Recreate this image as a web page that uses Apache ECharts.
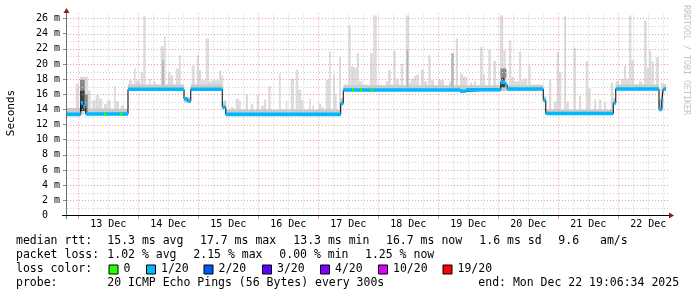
<!DOCTYPE html>
<html><head><meta charset="utf-8">
<script src="https://cdn.jsdelivr.net/npm/echarts@6/dist/echarts.min.js"></script>
<style>html,body{margin:0;padding:0;background:#fff}#c{width:697px;height:297px}</style>
</head><body><div id="c"></div>
<script>
// time unit: hours since 12 Dec 2025 00:00
const T_START = 19.1, T_END = 259.1, Y_MAX = 26.72;
const dayTickHours = [36,60,84,108,132,156,180,204,228,252];
const dayTickLabels = ['13 Dec','14 Dec','15 Dec','16 Dec','17 Dec','18 Dec','19 Dec','20 Dec','21 Dec','22 Dec'];
const midnightHours = [24,48,72,96,120,144,168,192,216,240];
const sixHourHours = [30,36,42,54,60,66,78,84,90,102,108,114,126,132,138,150,156,162,174,180,186,198,204,210,222,228,234,246,252,258];
const yMajorValues = [0,2,4,6,8,10,12,14,16,18,20,22,24,26];
const yMajorLabels = ['0  ','2 m','4 m','6 m','8 m','10 m','12 m','14 m','16 m','18 m','20 m','22 m','24 m','26 m'];
const yMinorValues = [1,3,5,7,9,11,13,15,17,19,21,23,25];

// median rtt (ms), value holds from medianT[i] to the next change
const medianT = [19.1,25.0,26.0,27.0,43.9,66.3,67.6,69.0,81.6,83.0,129.0,130.0,176.7,179.1,193.0,194.7,195.6,210.0,211.0,238.0,239.0,256.3,257.4,258.0];
const medianV = [13.35,14.85,14.4,13.4,16.65,15.4,15.1,16.65,14.3,13.35,14.8,16.55,16.4,16.6,17.6,17.2,16.7,15.2,13.45,14.85,16.7,14.0,15.1,16.7];
// hours where loss was 0/20 (green)
const lossZeroHours = [34.3,40.7,133.5,136.7,141.3];

// smoke band near the median: [from, to, low, high]
const smokeBand = [
 [19.1,25.0,13.2,14.2],[27.0,43.9,13.2,14.1],[43.9,66.3,16.5,17.3],[66.3,69.0,14.9,15.6],
 [69.0,81.6,16.5,17.3],[81.6,83.0,14.1,15.0],[83.0,129.0,13.2,14.0],[129.0,130.0,14.6,15.5],
 [130.0,210.0,16.4,17.2],[210.0,211.0,15.0,15.7],[211.0,238.0,13.3,14.0],[238.0,239.0,14.6,15.5],
 [239.0,256.3,16.5,17.3],[256.3,258.0,13.9,15.3],[258.0,259.1,16.5,17.3]
];
// smoke spikes (max ping): [from, to, max]
const smokeSpikes = [
 [23.0,24.3,17.4],[24.7,26.3,18.3],[26.3,27.9,18.3],[27.9,29.0,16.5],[29.6,31.0,15.2],[31.0,32.3,15.9],
 [32.3,33.6,15.4],[34.3,35.6,14.7],[35.6,37.0,15.2],[38.3,39.0,17.05],[39.0,40.3,15.1],[41.0,42.3,14.5],
 [44.3,45.6,17.85],[46.3,47.0,19.4],[47.0,48.7,17.8],[49.0,49.9,18.95],[50.0,51.0,26.3],[52.3,53.0,18.0],
 [54.0,55.0,17.7],[57.0,58.3,22.3],[58.3,59.0,23.6],[59.9,61.0,18.95],[61.0,62.0,18.5],[63.0,64.3,19.4],
 [64.3,65.0,21.15],[69.4,70.6,19.8],[71.4,72.3,21.15],[72.3,73.2,19.2],[73.2,75.0,17.85],[75.0,76.3,23.35],
 [76.3,77.2,17.7],[77.2,80.3,17.85],[80.3,81.2,19.1],[81.2,82.0,18.5],
 [82.3,83.2,15.2],[85.0,86.3,14.3],[87.0,88.3,15.4],[88.3,89.0,15.1],[91.0,91.9,16.0],[93.0,94.0,14.7],
 [95.4,96.3,15.9],[97.0,98.3,14.5],[98.3,99.2,15.3],[100.0,101.0,17.05],[104.3,105.0,18.7],[107.0,107.6,15.2],
 [109.0,110.3,18.05],[111.0,112.0,19.25],[112.0,113.2,16.6],[113.2,114.0,15.2],[116.3,117.0,15.4],[117.6,118.3,14.5],
 [120.3,121.2,14.7],[121.2,122.3,14.3],[123.0,124.3,17.9],[124.3,125.0,21.7],[125.9,126.7,18.6],[126.7,127.4,16.0],
 [128.3,129.1,20.9],[130.3,131.6,17.3],[132.0,133.0,25.1],[133.0,134.3,19.7],[134.3,135.4,19.5],[135.4,136.3,21.4],
 [136.3,137.6,17.7],[137.6,139.6,17.3],[140.7,142.0,21.4],[142.0,143.4,26.4],[143.6,144.3,17.3],[147.0,147.9,17.7],
 [147.9,149.0,19.2],[149.0,150.0,17.3],[150.0,151.0,21.7],[151.0,152.3,18.05],[153.0,154.0,20.0],[155.0,156.3,26.4],
 [156.3,157.0,17.5],[157.0,158.3,18.05],[158.3,159.2,18.4],[159.2,160.3,18.6],[161.0,162.3,19.25],[162.3,163.6,17.7],
 [164.0,165.0,21.15],[165.0,166.3,17.85],[167.9,170.3,17.9],[172.3,173.2,17.7],[173.2,174.3,21.4],[175.0,175.9,23.35],
 [176.7,177.9,18.7],[177.9,179.6,18.3],[180.7,181.6,17.5],[182.3,183.2,17.7],[184.7,185.8,22.25],[185.8,186.7,18.6],
 [188.0,189.0,21.9],[190.0,191.1,20.4],[192.7,194.0,26.4],[194.0,195.0,21.8],[195.0,195.6,19.2],[196.3,197.2,23.1],
 [197.2,198.3,18.3],[198.3,200.3,17.7],[200.3,201.2,21.6],[201.2,202.3,17.85],[202.3,203.6,18.05],[204.0,205.0,19.8],
 [205.0,209.5,17.3],[210.3,211.2,15.7],[212.3,213.2,17.9],[214.3,215.4,15.0],[215.4,216.3,21.6],[216.3,217.2,18.95],
 [218.3,219.2,26.3],[219.2,220.3,15.0],[222.0,223.1,22.15],[224.3,225.2,15.8],[227.0,227.9,20.4],[227.9,229.0,16.8],
 [230.3,231.2,15.3],[232.3,233.2,15.3],[234.3,235.2,15.0],[237.0,238.0,17.5],[239.0,240.3,17.75],[241.0,242.3,18.05],
 [242.3,243.1,19.8],[243.1,244.3,18.05],[244.3,245.2,26.4],[245.2,246.3,20.5],[246.3,247.6,17.3],[248.3,249.6,17.7],
 [250.3,251.4,25.7],[251.4,252.3,19.5],[252.3,253.2,21.8],[253.2,254.3,20.3],[255.0,256.3,20.9],[257.0,258.0,17.5],
 [258.0,259.0,17.3]
];
// dense smoke: [from, to, low, high, density level 1..3]
const smokeDense = [
 [24.7,26.6,16.5,17.9,2],[24.7,26.6,13.8,16.5,1],[26.6,27.8,13.6,16.0,2],
 [155.3,156.1,16.8,21.9,3],[173.2,174.3,16.8,21.4,3],[192.9,195.2,18.2,19.4,2],[193.2,194.6,16.9,18.2,1],
 [57.5,58.3,17.2,20.5,3]
];

const rttStats = ['15.3 ms avg','17.7 ms max','13.3 ms min','16.7 ms now','1.6 ms sd','9.6','am/s'];
const lossStats = ['1.02 % avg','2.15 % max','0.00 % min','1.25 % now'];
const lossLegendLabels = ['0','1/20','2/20','3/20','4/20','10/20','19/20'];
const probeText = '20 ICMP Echo Pings (56 Bytes) every 300s';
const endText = 'end: Mon Dec 22 19:06:34 2025';

// ---------- styles / layout ----------
const lossLegendColors = ['#26ff00','#00b8ff','#0059ff','#5e00ff','#7e00ff','#dd00ff','#ff0000'];
const denseColors = {1:'#3c3c3c',2:'#8a8a8a',3:'#b6b6b6'};
const MONO = '"DejaVu Sans Mono", monospace';

function medianAt(t){ let v = medianV[0]; for (let i=0;i<medianT.length;i++){ if (medianT[i] <= t) v = medianV[i]; } return v; }
const medianSteps = medianT.map((t,i)=>[t, i+1<medianT.length ? medianT[i+1] : T_END, medianV[i]]);

function rect(api, t0, t1, lo, hi, fill){
  const a = api.coord([t0, hi]), b = api.coord([t1, lo]);
  return {type:'rect', shape:{x:a[0], y:a[1], width:Math.max(1,b[0]-a[0]), height:Math.max(1,b[1]-a[1])}, style:{fill:fill}};
}

const chart = echarts.init(document.getElementById('c'), null, {renderer:'canvas'});

const graphic = [];
function txt(x,y,s,opts){ graphic.push(Object.assign({type:'text', x:x, y:y, silent:true, style:{text:s, font:'11.5px '+MONO, fill:'#000', align:'left', verticalAlign:'middle', textAlign:'left', textVerticalAlign:'middle'}}, opts||{})); }
// axes lines & arrows
graphic.push({type:'line', silent:true, shape:{x1:66.5,y1:219,x2:66.5,y2:12}, style:{stroke:'#707070', lineWidth:1}, z:100});
graphic.push({type:'line', silent:true, shape:{x1:62,y1:215.5,x2:670,y2:215.5}, style:{stroke:'#000', lineWidth:1}, z:100});
graphic.push({type:'polygon', silent:true, shape:{points:[[669,212.5],[674,215.5],[669,218.5]]}, style:{fill:'#8b1a1a'}, z:100});
graphic.push({type:'polygon', silent:true, shape:{points:[[63.5,13],[66.5,8],[69.5,13]]}, style:{fill:'#8b1a1a'}, z:100});
// y title
graphic.push({type:'text', x:11, y:113, rotation:Math.PI/2, silent:true, style:{text:'Seconds', font:'11px '+MONO, fill:'#000', align:'center', verticalAlign:'middle', textAlign:'center', textVerticalAlign:'middle'}});
// watermark
graphic.push({type:'text', x:686.5, y:60, rotation:-Math.PI/2, silent:true, style:{text:'RRDTOOL / TOBI OETIKER', font:'8.3px '+MONO, fill:'#c4c4c4', align:'center', verticalAlign:'middle', textAlign:'center', textVerticalAlign:'middle'}});
// legend rows
const R1=241, R2=255.5, R3=269.5, R4=283.5;
txt(16,R1,'median rtt:');
[107.3,200,293.3,386,479.3,558.3,600].forEach((x,i)=>txt(x,R1,rttStats[i]));
txt(16,R2,'packet loss:');
[107.3,193.3,279.3,365].forEach((x,i)=>txt(x,R2,lossStats[i]));
txt(16,R3,'loss color:');
[108.5,146,203.5,262,320,378,442.5].forEach((x,i)=>{
  graphic.push({type:'rect', silent:true, shape:{x:x+0.5,y:R3-4.5,width:9,height:9}, style:{fill:lossLegendColors[i], stroke:'#000', lineWidth:1}});
  txt(x+15,R3,lossLegendLabels[i]);
});
txt(16,R4,'probe:');
txt(107.3,R4,probeText);
txt(478.3,R4,endText);

const option = {
  animation:false,
  backgroundColor:'#fff',
  graphic: graphic,
  grid:{left:66, right:31, top:13, bottom:81.5, outerBoundsMode:'none', containLabel:false},
  xAxis:{type:'value', min:T_START, max:T_END,
    axisLine:{show:false}, splitLine:{show:false},
    axisTick:{show:true, customValues:midnightHours, length:3, lineStyle:{color:'#e08080'}},
    axisLabel:{show:true, customValues:dayTickHours, margin:4, fontFamily:'DejaVu Sans Mono', fontSize:10, color:'#000',
      formatter:(v)=>{ const i = dayTickHours.indexOf(Math.round(v)); return i>=0 ? dayTickLabels[i] : ''; }}
  },
  yAxis:{type:'value', min:0, max:Y_MAX,
    axisLine:{show:false}, splitLine:{show:false},
    axisTick:{show:true, customValues:yMajorValues, length:3, lineStyle:{color:'#888'}},
    axisLabel:{show:true, customValues:yMajorValues, margin:6, fontFamily:'DejaVu Sans Mono', fontSize:10, color:'#000',
      formatter:(v)=>{ const i = yMajorValues.indexOf(Math.round(v)); return i>=0 ? yMajorLabels[i] : ''; }}
  },
  series:[
    {type:'custom', name:'smoke max', z:1, clip:true, encode:{x:[0,1], y:[2,3]},
      data: smokeSpikes.map(s=>[s[0], s[1], medianAt(s[0])-0.1, s[2]]),
      renderItem:(p,api)=>rect(api, api.value(0), api.value(1), api.value(2), api.value(3), '#dcdcdc')},
    {type:'custom', name:'smoke band', z:2, clip:true, encode:{x:[0,1], y:[2,3]},
      data: smokeBand,
      renderItem:(p,api)=>rect(api, api.value(0), api.value(1), api.value(2), api.value(3), '#cbcbcb')},
    {type:'custom', name:'smoke dense', z:3, clip:true, encode:{x:[0,1], y:[2,3]},
      data: smokeDense,
      renderItem:(p,api)=>rect(api, api.value(0), api.value(1), api.value(2), api.value(3), denseColors[api.value(4)])},
    {type:'custom', name:'vgrid', z:4, silent:true, encode:{x:0},
      data: midnightHours.map(h=>[h,1]).concat(sixHourHours.map(h=>[h,0])),
      renderItem:(p,api)=>{ const a = api.coord([api.value(0), 0]); const b = api.coord([api.value(0), Y_MAX]);
        const x = Math.round(a[0]) + 0.5;
        return {type:'line', shape:{x1:x,y1:a[1],x2:x,y2:b[1]}, style:{stroke: api.value(1) ? '#eea0a0' : '#cfcfcf', lineWidth:1, lineDash:[1,2]}}; }},
    {type:'custom', name:'hgrid', z:4, silent:true, encode:{y:0},
      data: yMajorValues.filter(v=>v>0).map(v=>[v,1]).concat(yMinorValues.map(v=>[v,0])),
      renderItem:(p,api)=>{ const a = api.coord([T_START, api.value(0)]); const b = api.coord([T_END, api.value(0)]);
        const y = Math.round(a[1]) + 0.5;
        return {type:'line', shape:{x1:a[0]+1,y1:y,x2:b[0]+2,y2:y}, style:{stroke: api.value(1) ? '#eea0a0' : '#cfcfcf', lineWidth:1, lineDash:[1,2]}}; }},
    {type:'line', name:'median', z:5, step:'end', symbol:'none', silent:true,
      data: medianT.map((t,i)=>[t, medianV[i]]).concat([[T_END, medianV[medianV.length-1]]]),
      lineStyle:{color:'#000', width:1}},
    {type:'custom', name:'loss 1/20', z:6, clip:true, encode:{x:[0,1], y:2},
      data: medianSteps,
      renderItem:(p,api)=>{ const a = api.coord([api.value(0), api.value(2)]); const b = api.coord([api.value(1), api.value(2)]);
        return {type:'rect', shape:{x:a[0], y:a[1]-1.8, width:Math.max(1,b[0]-a[0]), height:3.6}, style:{fill:lossLegendColors[1]}}; }},
    {type:'custom', name:'loss 0', z:7, clip:true, encode:{x:0, y:1},
      data: lossZeroHours.map(h=>[h, medianAt(h)]),
      renderItem:(p,api)=>{ const a = api.coord([api.value(0), api.value(1)]);
        return {type:'rect', shape:{x:a[0], y:a[1]-1.8, width:2, height:3.6}, style:{fill:lossLegendColors[0]}}; }}
  ]
};
chart.setOption(option);
</script>
</body></html>
